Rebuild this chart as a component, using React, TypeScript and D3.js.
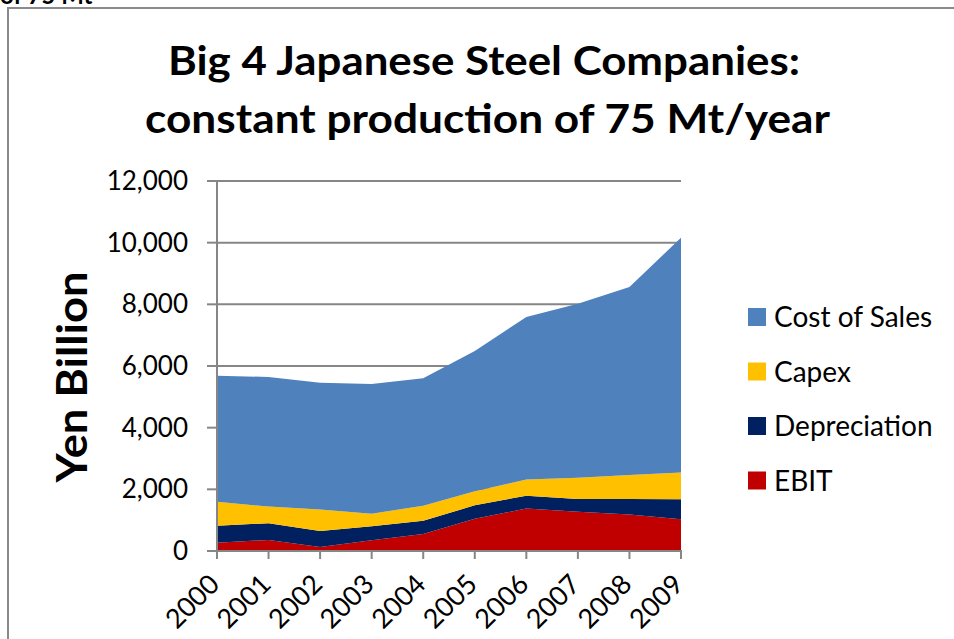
import React from "react";
import * as d3 from "d3";

const years = ["2000", "2001", "2002", "2003", "2004", "2005", "2006", "2007", "2008", "2009"];
const ebit = [270, 360, 130, 345, 550, 1050, 1375, 1275, 1180, 1030];
const depreciation = [550, 540, 520, 455, 435, 430, 420, 410, 505, 645];
const capex = [780, 540, 700, 410, 485, 455, 520, 690, 780, 875];
const costOfSales = [4085, 4205, 4110, 4205, 4130, 4550, 5275, 5645, 6095, 7610];
const yTicks = [0, 2000, 4000, 6000, 8000, 10000, 12000];

const seriesNames = ["EBIT", "Depreciation", "Capex", "Cost of Sales"];
const seriesColors = ["#C00000", "#002060", "#FFC000", "#4F81BD"];
const legendOrder = ["Cost of Sales", "Capex", "Depreciation", "EBIT"];

const FONT = "Lato, 'Open Sans', sans-serif";

export default function App() {
  const rows = years.map((y, i) => ({
    year: y,
    EBIT: ebit[i],
    Depreciation: depreciation[i],
    Capex: capex[i],
    "Cost of Sales": costOfSales[i],
  }));
  const stacked = d3.stack<any>().keys(seriesNames)(rows);

  const x = d3.scalePoint<string>().domain(years).range([217, 681]);
  const y = d3.scaleLinear().domain([0, 12000]).range([551, 181]);
  const area = d3
    .area<any>()
    .x((d) => x(d.data.year) as number)
    .y0((d) => y(d[0]))
    .y1((d) => y(d[1]));

  const fmt = d3.format(",");
  const gridColor = "#868686";

  return (
    <svg
      width={954}
      height={639}
      style={{ position: "fixed", left: 0, top: 0, background: "#fff" }}
      fontFamily={FONT}
    >
      <rect x={0} y={0} width={954} height={639} fill="#fff" />
      <text x={0} y={4} fontSize={24} fontWeight="bold" fill="#000">
        of 75 Mt
      </text>
      <rect x={8} y={8} width={960} height={650} fill="none" stroke="#8a8a8a" strokeWidth={2} />

      {/* title */}
      <text
        x={168}
        y={75}
        fontSize={40}
        fontWeight="bold"
        fill="#000"
        textLength={632}
        lengthAdjust="spacingAndGlyphs"
      >
        Big 4 Japanese Steel Companies:
      </text>
      <text
        x={145}
        y={133}
        fontSize={40}
        fontWeight="bold"
        fill="#000"
        textLength={685}
        lengthAdjust="spacingAndGlyphs"
      >
        constant production of 75 Mt/year
      </text>

      {/* gridlines */}
      {yTicks.map((t) => (
        <g key={t}>
          {t > 0 && (
            <line x1={217} x2={681} y1={y(t)} y2={y(t)} stroke={gridColor} strokeWidth={2} />
          )}
          <line x1={207} x2={217} y1={y(t)} y2={y(t)} stroke={gridColor} strokeWidth={2} />
          <text x={188} y={y(t)} dy="0.35em" textAnchor="end" fontSize={26} fill="#000">
            {fmt(t)}
          </text>
        </g>
      ))}

      {/* areas */}
      {stacked.map((s, i) => (
        <path key={s.key} d={area(s as any) as string} fill={seriesColors[i]} />
      ))}

      {/* axes */}
      <line x1={217} x2={217} y1={181} y2={552} stroke={gridColor} strokeWidth={2} />
      <line x1={207} x2={682} y1={551} y2={551} stroke={gridColor} strokeWidth={2} />
      {years.map((yr) => (
        <g key={yr}>
          <line
            x1={x(yr) as number}
            x2={x(yr) as number}
            y1={551}
            y2={559}
            stroke={gridColor}
            strokeWidth={2}
          />
          <text
            transform={`translate(${(x(yr) as number) + 4},${586}) rotate(-45)`}
            textAnchor="end"
            fontSize={27}
            fill="#000"
          >
            {yr}
          </text>
        </g>
      ))}

      {/* y axis title */}
      <text
        transform={`translate(87,377) rotate(-90)`}
        textAnchor="middle"
        fontSize={42}
        fontWeight="bold"
        fill="#000"
        textLength={211}
        lengthAdjust="spacingAndGlyphs"
      >
        Yen Billion
      </text>

      {/* legend */}
      {legendOrder.map((name, i) => {
        const cy = 317 + i * 54.5;
        const color = seriesColors[seriesNames.indexOf(name)];
        return (
          <g key={name}>
            <rect x={748} y={cy - 9} width={18} height={18} fill={color} />
            <text x={774} y={cy} dy="0.36em" fontSize={28} fill="#000">
              {name}
            </text>
          </g>
        );
      })}
    </svg>
  );
}
